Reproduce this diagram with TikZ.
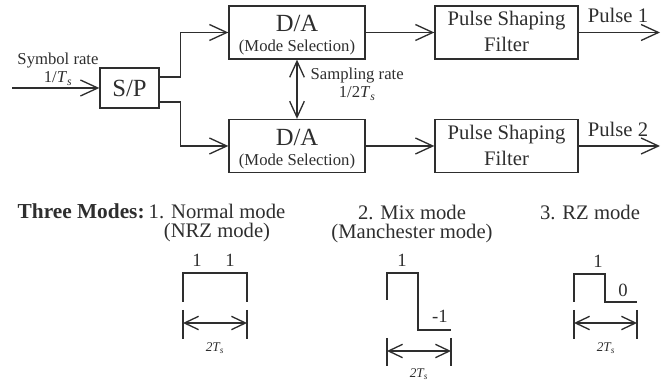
\documentclass[tikz,border=0pt]{standalone}
\usepackage{fontspec}
\setmainfont{Liberation Serif}
\usetikzlibrary{arrows.meta}
\definecolor{ink}{HTML}{2E2E2E}
\newcommand{\period}{\textit{T}\textsubscript{\textit{s}}}

\begin{document}
\begin{tikzpicture}[
    x=0.75pt, y=-0.75pt,
    color=ink, line width=1pt,
    blk/.style={draw, inner sep=0pt, minimum height=39.75pt, align=center},
    spbox/.style={blk, minimum width=44.25pt, minimum height=30pt, font=\fontsize{18.5}{20}\selectfont, text height=13.5pt, text depth=0pt},
    dabox/.style={blk, minimum width=102pt, font=\fontsize{12.5}{15}\selectfont, text height=29.25pt, text depth=0pt},
    psbox/.style={blk, minimum width=107.25pt, font=\fontsize{15.5}{19.5}\selectfont, text height=29.25pt, text depth=0pt},
    lbl/.style={align=center, inner sep=0pt, font=\fontsize{12.5}{13.5}\selectfont},
    pulse/.style={inner sep=0pt, font=\fontsize{15.5}{18}\selectfont},
    mode/.style={align=center, inner sep=0pt, font=\fontsize{15.5}{14.25}\selectfont},
    lvl/.style={inner sep=0pt, font=\fontsize{14}{16}\selectfont},
    dimtxt/.style={inner sep=0pt, font=\fontsize{10}{11}\selectfont\itshape},
    ar/.style={-{Straight Barb[length=13pt,width=12pt]}},
    dar/.style={{Straight Barb[length=12pt,width=11pt]}-{Straight Barb[length=12pt,width=11pt]}},
    dimar/.style={{Straight Barb[length=10.5pt,width=10pt]}-{Straight Barb[length=10.5pt,width=10pt]}},
  ]
    \useasboundingbox (0,0) rectangle (669,381);

    % transmitter chain
    \node[spbox] (sp) at (129.5,88) {S/P};
    \node[dabox] (da1) at (297,32.5) {{\fontsize{18.5}{15}\selectfont D/A}\\(Mode Selection)};
    \node[dabox] (da2) at (297,146) {{\fontsize{18.5}{15}\selectfont D/A}\\(Mode Selection)};
    \node[psbox] (ps1) at (506.5,32.5) {Pulse Shaping\\Filter};
    \node[psbox] (ps2) at (506.5,146) {Pulse Shaping\\Filter};

    \coordinate (in) at (12,88);
    \coordinate (out1) at (660,32.5);
    \coordinate (out2) at (660,146);

    % labels sit on the baseline of their last line
    \node[lbl, anchor=base] (symrate) at (58,83) {Symbol rate\\1/\period};
    \node[lbl, anchor=base west] (samprate) at (310,98) {Sampling rate\\1/2\period};
    \node[pulse, anchor=base] (p1) at (618,23) {Pulse 1};
    \node[pulse, anchor=base] (p2) at (618,137) {Pulse 2};

    \draw[ar] (in) -- (sp);
    \draw[ar] ([yshift=8.25pt]sp.east) -- ++(21,0) |- (da1);
    \draw[ar] ([yshift=-10.5pt]sp.east) -- ++(21,0) |- (da2);
    \draw[ar] (da1) -- (ps1);
    \draw[ar] (da2) -- (ps2);
    \draw[ar] (ps1) -- (out1);
    \draw[ar] (ps2) -- (out2);
    \draw[dar] (da1) -- (da2);

    % the three line codes
    \node[anchor=base west, inner sep=0pt, font=\fontsize{16}{18}\selectfont\bfseries] (modes) at (17,219) {Three Modes:};
    \node[mode, anchor=base] (nrz) at (217,238) {1. Normal mode\\(NRZ mode)};
    \node[mode, anchor=base] (mix) at (412,239) {2. Mix mode\\(Manchester mode)};
    \node[mode, anchor=base] (rz) at (590,220) {3. RZ mode};

    % NRZ
    \draw (183,302) -- (183,273) -- (247,273) -- (247,302);
    \node[lvl, anchor=base] (nrza) at (197,267) {1};
    \node[lvl, anchor=base] (nrzb) at (230,267) {1};
    \draw (183,310) -- (183,339) (247,310) -- (247,339);
    \draw[dimar] (183,323) -- (247,323);
    \node[dimtxt, anchor=base] (nrzt) at (215,352) {2\period};

    % Manchester
    \draw (387,300) -- (387,273) -- (418,273) -- (418,330) -- (451,330);
    \node[lvl, anchor=base] (mixa) at (402,267) {1};
    \node[lvl, anchor=base] (mixb) at (440,323) {-1};
    \draw (387,338) -- (387,366) (451,338) -- (451,366);
    \draw[dimar] (387,351) -- (451,351);
    \node[dimtxt, anchor=base] (mixt) at (419,378) {2\period};

    % RZ
    \draw (574,302) -- (574,274) -- (605,274) -- (605,302) -- (637,302);
    \node[lvl, anchor=base] (rza) at (598,268) {1};
    \node[lvl, anchor=base] (rzb) at (623,297) {0};
    \draw (574,310) -- (574,339) (637,310) -- (637,339);
    \draw[dimar] (574,323) -- (637,323);
    \node[dimtxt, anchor=base] (rzt) at (606,352) {2\period};
\end{tikzpicture}
\end{document}
